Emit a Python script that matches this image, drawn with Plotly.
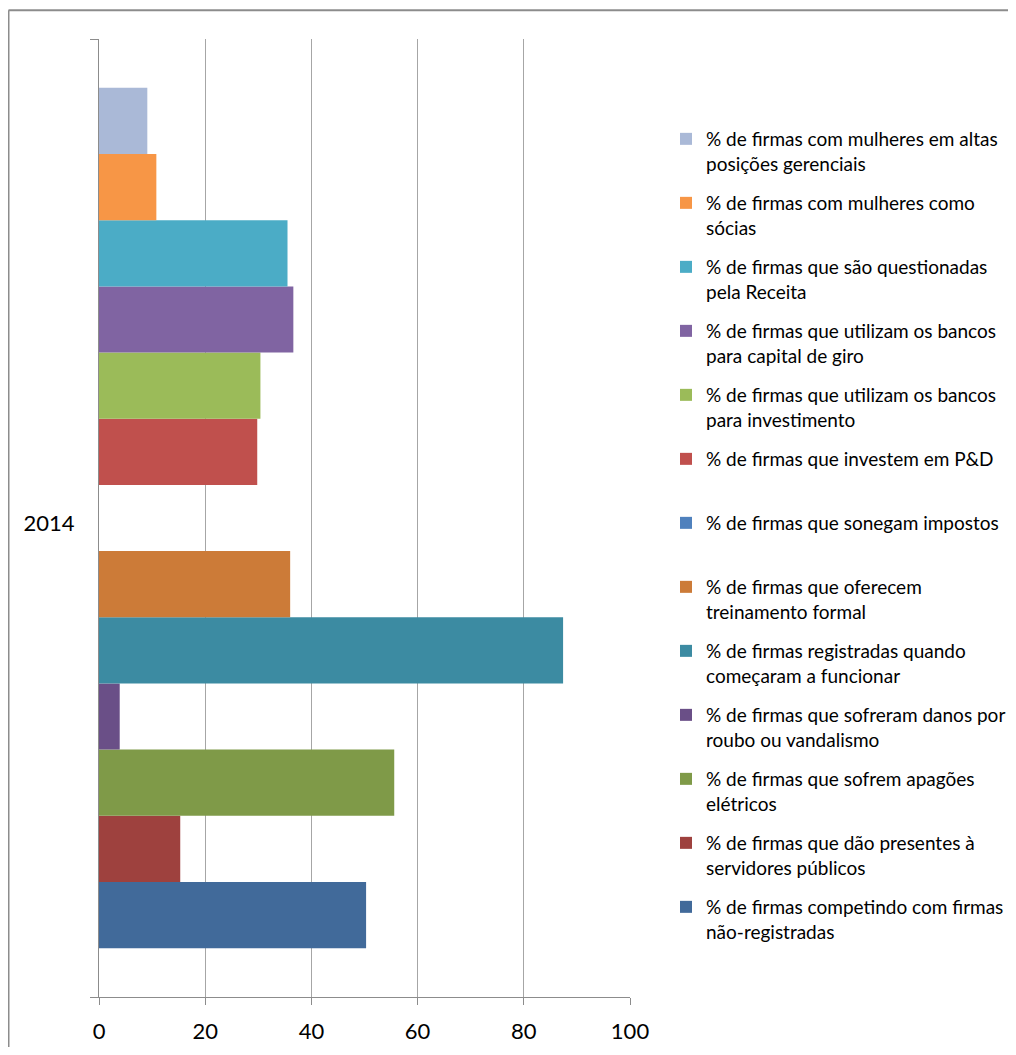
import plotly.graph_objects as go

category = ["2014"]

series_names = [
    "% de firmas competindo com firmas<br>não-registradas",
    "% de firmas que dão presentes à<br>servidores públicos",
    "% de firmas que sofrem apagões<br>elétricos",
    "% de firmas que sofreram danos por<br>roubo ou vandalismo",
    "% de firmas registradas quando<br>começaram a funcionar",
    "% de firmas que oferecem<br>treinamento formal",
    "% de firmas que sonegam impostos<br> ",
    "% de firmas que investem em P&D<br> ",
    "% de firmas que utilizam os bancos<br>para investimento",
    "% de firmas que utilizam os bancos<br>para capital de giro",
    "% de firmas que são questionadas<br>pela Receita",
    "% de firmas com mulheres como<br>sócias",
    "% de firmas com mulheres em altas<br>posições gerenciais",
]

series_values = [50.3, 15.3, 55.6, 3.9, 87.4, 36.0, 0.0, 29.8, 30.4, 36.6, 35.5, 10.8, 9.1]

series_colors = [
    "#416A9A", "#9E413E", "#7F9A48", "#6A4F87", "#3C8BA2", "#CC7B38",
    "#4F81BD", "#C0504D", "#9BBB59", "#8064A2", "#4BACC6", "#F79646", "#AAB9D7",
]

x_ticks = [0, 20, 40, 60, 80, 100]

FONT = "Lato, 'Open Sans', sans-serif"

fig = go.Figure()
for i, (name, val, col) in enumerate(zip(series_names, series_values, series_colors)):
    fig.add_trace(go.Bar(
        y=category, x=[val], name=name, orientation="h",
        marker=dict(color=col, line=dict(width=0)),
        legendgroup="g%d" % i, legendrank=1000 - i,
    ))

# page has an 8px body margin: figure coords = page coords - 8
W, H = 1000, 1039
L, R, T, B = 91, 622, 31, 989
PW, PH = R - L, B - T

def px(xf):
    return (xf - L) / PW

def py(yf):
    return 1 - (yf - T) / PH

fig.update_layout(
    width=W, height=H,
    margin=dict(l=L, r=W - R, t=T, b=H - B, pad=0, autoexpand=False),
    paper_bgcolor="white", plot_bgcolor="white",
    barmode="group", bargap=0.102, bargroupgap=0,
    font=dict(family=FONT, color="#000000"),
    showlegend=True,
    legend=dict(
        x=px(658), xanchor="left",
        y=py(112), yanchor="top",
        traceorder="grouped", tracegroupgap=11.6,
        valign="top",
        font=dict(family=FONT, size=19, color="#000000"),
        bgcolor="rgba(0,0,0,0)", borderwidth=0,
    ),
    xaxis=dict(
        range=[0, 100], tickvals=x_ticks, ticktext=[str(v) for v in x_ticks],
        showgrid=True, gridcolor="#A6A6A6", gridwidth=1.3,
        showline=True, linecolor="#8C8C8C", linewidth=1.3,
        ticks="outside", ticklen=7, tickcolor="#8C8C8C", tickwidth=1.3,
        tickfont=dict(family=FONT, size=22, color="#000000"),
        ticklabelstandoff=7,
        zeroline=False, fixedrange=True, automargin=False,
    ),
    yaxis=dict(
        type="category",
        showline=True, linecolor="#8C8C8C", linewidth=1.3,
        ticks="outside", ticklen=8, tickcolor="#8C8C8C", tickwidth=1.3,
        tickson="boundaries",
        tickfont=dict(family=FONT, size=22, color="#000000"),
        ticklabelstandoff=19, ticklabelshift=5,
        showgrid=False, zeroline=False, fixedrange=True, automargin=False,
    ),
)

# outer chart-area border (only its left and top edges are visible)
border = dict(color="#8C8C8C", width=2)
fig.add_shape(type="line", xref="paper", yref="paper",
              x0=px(0.5), x1=px(1100), y0=py(2.3), y1=py(2.3), line=border, layer="below")
fig.add_shape(type="line", xref="paper", yref="paper",
              x0=px(0.5), x1=px(0.5), y0=py(2.3), y1=py(1100), line=border, layer="below")

fig.write_html("out.html")
